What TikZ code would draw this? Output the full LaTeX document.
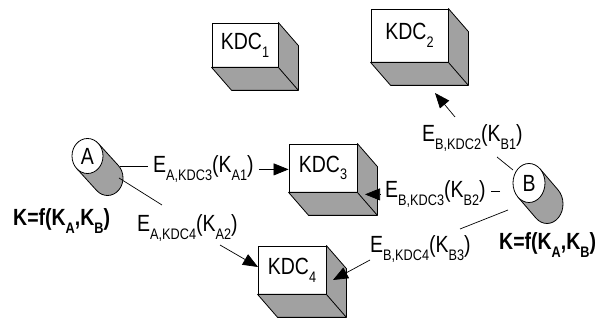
\documentclass[tikz,border=0pt]{standalone}
\usepackage{fontspec}
\setmainfont{Liberation Sans}
\usepackage{graphicx}
\usetikzlibrary{arrows.meta,shapes.geometric,calc}
\definecolor{shadegray}{gray}{0.63}
\newcommand\mysub[1]{\raisebox{-6.5pt}{\fontsize{12.7}{14}\selectfont #1}}
\newcommand\ekey[2]{\scalebox{1}[1.2]{E\mysub{#1}(K\mysub{#2})}}
\newcommand\kdclab[1]{\scalebox{1}[1.2]{KDC\mysub{#1}}}
\newcommand\kfun{\scalebox{1}[1.2]{\bfseries K=f(K\mysub{A},K\mysub{B})}}
\newcommand\boxfaces[1]{%
  \draw[side] (#1.north east) -- ($(#1.north east)+(20,-23)$) -- ($(#1.south east)+(20,-23)$)
    -- ($(#1.south west)+(20,-23)$) -- (#1.south west) -- (#1.south east) -- cycle;
  \draw[edge] (#1.south east) -- ($(#1.south east)+(20,-23)$);}
\begin{document}
\begin{tikzpicture}[x=1pt,y=1pt,font=\fontsize{19.5}{22}\selectfont,
  front/.style={draw, fill=white, inner sep=0pt, line width=0.8pt},
  side/.style={draw, fill=shadegray, line width=0.8pt, line join=round},
  edge/.style={line width=0.8pt},
  lab/.style={inner xsep=5pt, inner ysep=2pt, anchor=base west},
  conn/.style={line width=0.7pt},
  arr/.style={conn, -{Triangle[length=15pt,width=12pt]}},
  cylbody/.style={draw, fill=shadegray, line width=0.8pt, line join=round},
  cylface/.style={draw, fill=white, ellipse, inner sep=0pt, line width=0.8pt}]
\useasboundingbox (0,0) rectangle (611,321);
% boxes
\node[front, minimum width=66pt, minimum height=44pt] (kdc1) at (245,276) {\kdclab{1}};
\boxfaces{kdc1}
\node[front, minimum width=77pt, minimum height=53pt] (kdc2) at (409.5,285.5) {\kdclab{2}};
\boxfaces{kdc2}
\node[front, minimum width=68pt, minimum height=48pt] (kdc3) at (323,153) {\kdclab{3}};
\boxfaces{kdc3}
\node[front, minimum width=68pt, minimum height=48pt] (kdc4) at (292,51) {\kdclab{4}};
\boxfaces{kdc4}
% cylinder A
\coordinate (cA) at (87.5,165);
\draw[cylbody] ($(cA)+(45.7:15.5 and 17.5)$) -- ++(20,-22)
  arc[start angle=45.7, end angle=-134.3, x radius=15.5, y radius=17.5]
  -- ($(cA)+(225.7:15.5 and 17.5)$) -- cycle;
\node[cylface, minimum width=31pt, minimum height=35pt] (A) at (cA) {\scalebox{1}[1.2]{A}};
% cylinder B
\coordinate (cB) at (529,138);
\draw[cylbody] ($(cB)+(46.3:16 and 19.5)$) -- ++(18,-21)
  arc[start angle=46.3, end angle=-133.7, x radius=16, y radius=19.5]
  -- ($(cB)+(226.3:16 and 19.5)$) -- cycle;
\node[cylface, minimum width=32pt, minimum height=39pt] (B) at (cB) {\scalebox{1}[1.2]{B}};
% labels
\node[lab] (ea3) at (148,148) {\ekey{A,KDC3}{A1}};
\node[lab] (ea4) at (132,89) {\ekey{A,KDC4}{A2}};
\node[lab] (eb2) at (417,179) {\ekey{B,KDC2}{B1}};
\node[lab] (eb3) at (380,123) {\ekey{B,KDC3}{B2}};
\node[lab] (eb4) at (365,68) {\ekey{B,KDC4}{B3}};
\node[anchor=base west, inner sep=0pt] (kl) at (13,95) {\kfun};
\node[anchor=base west, inner sep=0pt] (kr) at (499,71) {\kfun};
% connector points
\coordinate (a1) at (120,155);
\coordinate (a2) at (119,143);
\coordinate (a2e) at (162,116);
\coordinate (a4s) at (220,76);
\coordinate (k4w) at (258,54);
\coordinate (b1) at (513,151);
\coordinate (b1e) at (497,164);
\coordinate (b2s) at (455,204);
\coordinate (k2b) at (435,228);
\coordinate (b2) at (500,130);
\coordinate (k3r) at (365,130);
\coordinate (b3) at (508,111);
\coordinate (b3e) at (460,92);
\coordinate (b4s) at (370,61);
\coordinate (k4r) at (333,41);
% connectors from A
\draw[conn] (a1) -- (a1 -| ea3.west);
\draw[arr] (ea3.east) -- (ea3.east -| kdc3.west);
\draw[conn] (a2) -- (a2e);
\draw[arr] (a4s) -- (k4w);
% connectors from B
\draw[conn] (b1) -- (b1e);
\draw[arr] (b2s) -- (k2b);
\draw[conn] (b2) -- (b2 -| eb3.east);
\draw[arr] (eb3.west) -- (eb3.west -| k3r);
\draw[conn] (b3) -- (b3e);
\draw[arr] (b4s) -- (k4r);
\end{tikzpicture}
\end{document}
